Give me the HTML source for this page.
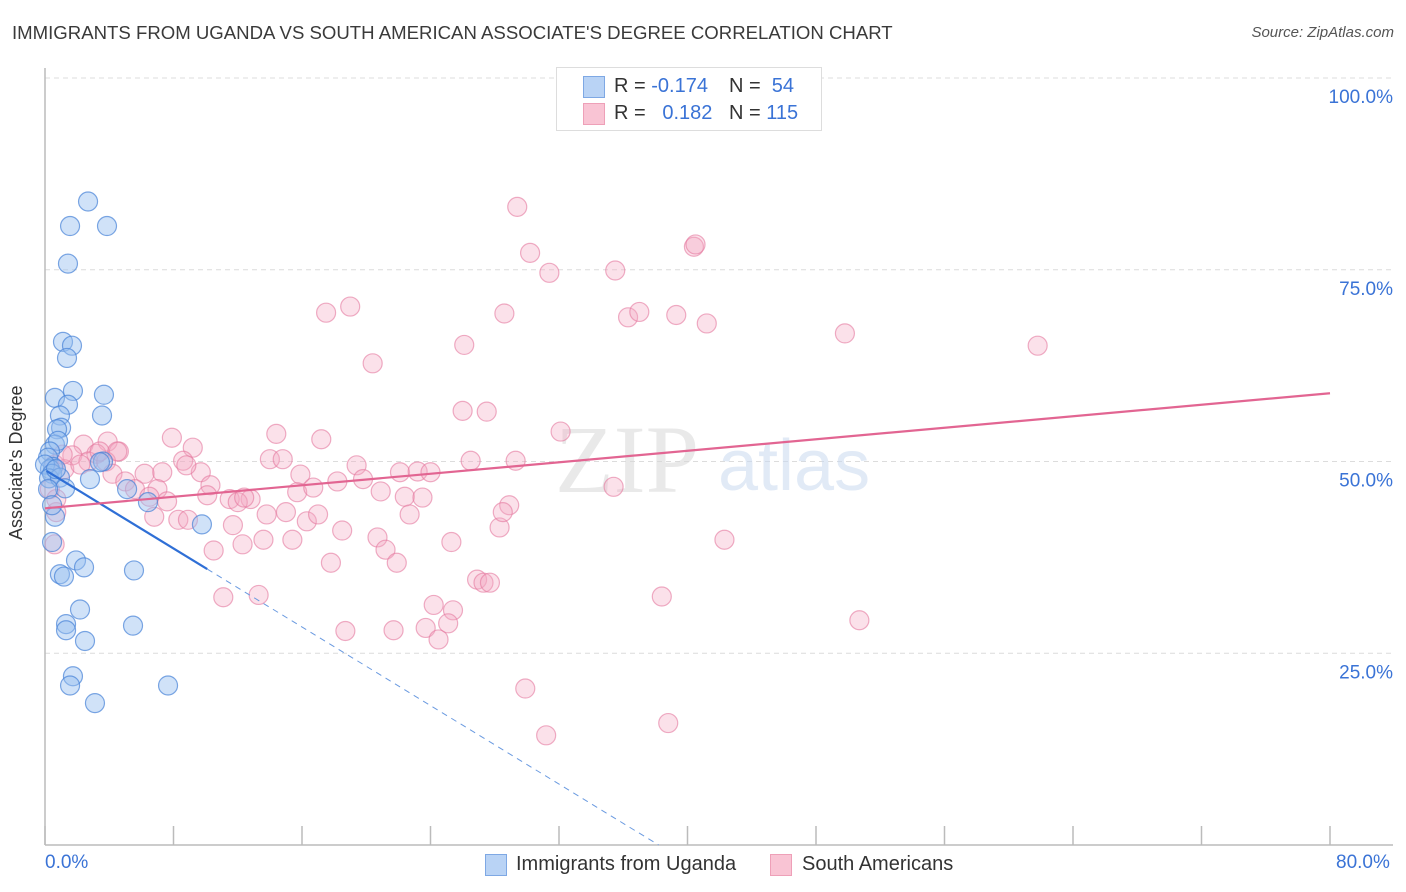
<!DOCTYPE html>
<html><head><meta charset="utf-8">
<style>
body{margin:0;background:#fff;font-family:"Liberation Sans",sans-serif;}
#wrap{position:relative;width:1406px;height:892px;overflow:hidden;}
.t{position:absolute;white-space:nowrap;}
</style></head><body>
<div id="wrap">
<div class="t" style="left:12px;top:22px;font-size:18.6px;color:#3a3a3a;">IMMIGRANTS FROM UGANDA VS SOUTH AMERICAN ASSOCIATE'S DEGREE CORRELATION CHART</div>
<div class="t" style="right:12px;top:24px;font-size:15px;color:#555;font-style:italic;">Source: ZipAtlas.com</div>
<svg id="svg" width="1406" height="892" style="position:absolute;left:0;top:0"></svg>
<div class="t" style="left:556px;top:67px;width:264px;height:62px;border:1px solid #ddd;background:#fff;">
 <div style="position:absolute;left:26px;top:8px;width:20px;height:20px;background:#b9d3f5;border:1px solid #7ea8e4;"></div>
 <div style="position:absolute;left:26px;top:35px;width:20px;height:20px;background:#f9c4d4;border:1px solid #eea0b8;"></div>
 <div class="t" style="left:57px;top:7px;font-size:20px;color:#333;">R = <span style="color:#3a73d6">-0.174</span></div>
 <div class="t" style="left:172px;top:7px;font-size:20px;color:#333;">N = &nbsp;<span style="color:#3a73d6">54</span></div>
 <div class="t" style="left:57px;top:34px;font-size:20px;color:#333;">R = &nbsp;&nbsp;<span style="color:#3a73d6">0.182</span></div>
 <div class="t" style="left:172px;top:34px;font-size:20px;color:#333;">N = <span style="color:#3a73d6">115</span></div>
</div>
<div class="t" style="left:6px;top:540px;transform:rotate(-90deg);transform-origin:0 0;font-size:18px;color:#333;">Associate's Degree</div>
<div class="t" style="left:45px;top:852px;font-size:19px;color:#3a73d6;">0.0%</div>
<div class="t" style="left:1336px;top:852px;font-size:19px;color:#3a73d6;">80.0%</div>
<div class="t" style="left:485px;top:854px;width:20px;height:20px;background:#b9d3f5;border:1px solid #7ea8e4;"></div>
<div class="t" style="left:516px;top:853px;font-size:20px;color:#333;">Immigrants from Uganda</div>
<div class="t" style="left:770px;top:854px;width:20px;height:20px;background:#f9c4d4;border:1px solid #eea0b8;"></div>
<div class="t" style="left:802px;top:853px;font-size:20px;color:#333;">South Americans</div>
</div>
<script>
const blueX=[2.68,1.56,3.86,1.43,1.12,1.68,1.37,1.74,3.67,0.62,1.43,0.93,3.55,1.0,0.75,0.62,0.81,0.31,0.19,0.5,0.31,0,0.44,0.25,0.93,2.8,1.25,3.61,5.11,6.41,9.77,0.62,0.44,1.93,2.43,0.93,1.18,5.54,2.18,1.31,1.31,2.49,5.48,1.74,1.56,7.66,3.11,0.19,0.44,0.68,3.42];
const blueY=[83.9,80.7,80.7,75.8,65.6,65.1,63.5,59.2,58.7,58.3,57.4,56.0,56.0,54.4,54.2,52.2,52.7,51.3,50.5,49.3,49.0,49.6,48.4,47.8,47.9,47.7,46.5,50.0,46.4,44.7,41.8,42.8,39.5,37.1,36.2,35.3,35.0,35.8,30.7,28.8,28.0,26.6,28.6,22.0,20.8,20.8,18.5,46.4,44.3,49.0,49.9];
const pinkX=[29.4,30.2,31.4,35.5,40.4,40.5,17.5,19.0,28.6,36.3,37.0,39.3,41.2,49.8,61.8,26.1,20.4,26.0,27.5,32.1,7.9,14.4,17.2,3.9,2.4,9.2,8.6,9.7,4.6,3.2,1.7,0.6,1.2,2.7,3.8,4.2,6.2,7.3,10.3,11.5,12.8,14.0,14.8,15.9,15.7,16.7,19.4,19.8,18.2,20.9,22.1,23.2,24.0,26.5,29.3,22.4,23.5,22.7,28.3,28.9,28.5,35.4,5.0,5.6,7.0,7.6,6.8,8.3,8.9,10.1,12.0,13.8,15.0,16.3,17.0,11.7,12.3,13.6,15.4,18.5,20.7,21.2,21.9,17.8,25.3,0.7,0.6,10.5,26.9,27.3,27.7,24.2,25.4,25.1,21.7,23.7,24.5,18.7,11.1,13.3,38.4,42.3,50.7,29.9,31.2,38.8,1.1,2.2,3.4,4.5,6.5,12.4,8.8,0.3,0.7];
const pinkY=[83.2,77.2,74.6,74.9,78.0,78.3,69.4,70.2,69.3,68.8,69.5,69.1,68.0,66.7,65.1,65.2,62.8,56.6,56.5,53.9,53.1,53.6,52.9,52.6,52.2,51.8,50.1,48.6,51.3,51.0,50.8,49.6,49.0,50.0,50.0,48.4,48.4,48.6,46.9,45.1,45.1,50.3,50.3,48.3,46.0,46.6,49.5,47.7,47.4,46.1,48.6,48.7,48.6,50.1,50.1,45.4,45.3,43.1,41.4,44.3,43.4,46.7,47.4,46.4,46.4,44.8,42.8,42.4,42.4,45.6,44.7,43.1,43.4,42.2,43.1,41.7,39.2,39.8,39.8,41.0,40.1,38.5,36.8,36.8,39.5,43.4,39.2,38.4,34.6,34.2,34.2,31.3,30.6,28.9,28.0,28.3,26.8,27.9,32.3,32.6,32.4,39.8,29.3,20.4,14.3,15.9,50.9,49.6,51.3,51.3,45.4,45.3,49.5,46.4,45.1];
const yTicks=[25,50,75,100];
const yTickLabels=["25.0%","50.0%","75.0%","100.0%"];
const xTicks=[0,8,16,24,32,40,48,56,64,72,80];
const blueTrend=[48.9,-1.28];
const pinkTrend=[43.9,0.1875];

const NS="http://www.w3.org/2000/svg";
const svg=document.getElementById('svg');
const X0=45,X1=1330,Y0=845,Y1=78;
const sx=v=>X0+v/80*(X1-X0);
const sy=v=>Y0-v/100*(Y0-Y1);
function mk(tag,attrs){const e=document.createElementNS(NS,tag);for(const k in attrs)e.setAttribute(k,attrs[k]);svg.appendChild(e);return e;}

yTicks.forEach((t,i)=>{
 const g=mk('line',{x1:X0,x2:1393,y1:sy(t),y2:sy(t),stroke:'#dcdcdc','stroke-dasharray':'5,4','stroke-width':1});
 
 
 const tx=mk('text',{x:1393,y:sy(t)+25,'text-anchor':'end','font-size':19,fill:'#3a73d6','font-family':'Liberation Sans, sans-serif'});
 tx.textContent=yTickLabels[i];
 
 
});
const ax=mk('line',{x1:X0,x2:X0,y1:68,y2:Y0,stroke:'#bbb','stroke-width':1.5});


const bx=mk('line',{x1:X0,x2:1393,y1:Y0,y2:Y0,stroke:'#bbb','stroke-width':1.5});


xTicks.forEach(t=>{
 const l=mk('line',{x1:sx(t),x2:sx(t),y1:826,y2:Y0,stroke:'#bbb','stroke-width':1.5});
 
 
});
const wm1=mk('text',{x:555,y:492,'font-size':96,fill:'#d8d8d8','font-family':'Liberation Serif, serif','opacity':0.55});
wm1.textContent='ZIP';


const wm2=mk('text',{x:718,y:490,'font-size':72,fill:'#c9d9f0','font-family':'Liberation Sans, sans-serif','opacity':0.55});
wm2.textContent='atlas';



pinkX.forEach((x,i)=>{
 const c=mk('circle',{cx:sx(x),cy:sy(pinkY[i]),r:9.5,fill:'rgba(244,170,195,0.35)',stroke:'rgba(228,120,158,0.6)','stroke-width':1.2});
 
 
});
blueX.forEach((x,i)=>{
 const c=mk('circle',{cx:sx(x),cy:sy(blueY[i]),r:9.5,fill:'rgba(150,190,240,0.45)',stroke:'rgba(70,130,215,0.7)','stroke-width':1.2});
 
 
});
const bEnd=10.1, bZero=-blueTrend[0]/blueTrend[1];
const bl=mk('line',{x1:sx(0.1),y1:sy(blueTrend[0]+blueTrend[1]*0.1),x2:sx(bEnd),y2:sy(blueTrend[0]+blueTrend[1]*bEnd),stroke:'#2f6fd6','stroke-width':2.2});


const bd=mk('line',{x1:sx(bEnd),y1:sy(blueTrend[0]+blueTrend[1]*bEnd),x2:sx(bZero),y2:sy(0),stroke:'#6a9ae0','stroke-width':1,'stroke-dasharray':'6,5'});


const pl=mk('line',{x1:sx(0),y1:sy(pinkTrend[0]),x2:sx(80),y2:sy(pinkTrend[0]+pinkTrend[1]*80),stroke:'#e26592','stroke-width':2.2});


</script>
</body></html>
